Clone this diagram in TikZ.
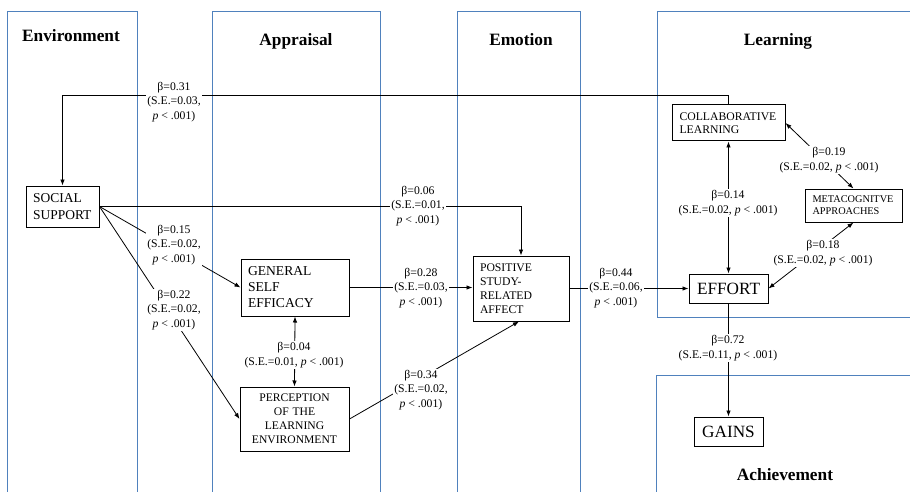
\documentclass[tikz,border=0pt]{standalone}
\usepackage{fontspec}
\setmainfont{Liberation Serif}
\usetikzlibrary{arrows.meta}
\definecolor{panelblue}{RGB}{79,129,189}
\begin{document}
\begin{tikzpicture}[x=1pt,y=-1pt,
  panel/.style={draw=panelblue, line width=1pt},
  ttl/.style={font=\fontsize{17.3}{20}\selectfont\bfseries, anchor=base, inner sep=0pt},
  box/.style={draw, line width=1pt, fill=white, inner xsep=7pt, inner ysep=0pt, align=left},
  arr/.style={line width=0.8pt, -{Latex[length=6pt,width=4.5pt]}},
  arrb/.style={line width=0.8pt, {Latex[length=6pt,width=4.5pt]}-{Latex[length=6pt,width=4.5pt]}},
  lab/.style={fill=white, inner sep=1pt, align=center, font=\fontsize{11.7}{14.5}\selectfont}]
\useasboundingbox (0,0) rectangle (910,492);
\clip (0,0) rectangle (910,492);
% panels
\draw[panel] (7,510) -- (7,12) -- (137,12) -- (137,510);
\draw[panel] (212,510) -- (212,12) -- (380,12) -- (380,510);
\draw[panel] (457,510) -- (457,12) -- (580,12) -- (580,510);
\draw[panel] (930,12) -- (657,12) -- (657,317) -- (930,317);
\draw[panel] (930,375) -- (656,375) -- (656,510);
% titles
\node[ttl] (tenv) at (71,42) {Environment};
\node[ttl] (tapp) at (296,45.5) {Appraisal};
\node[ttl] (temo) at (521,45.5) {Emotion};
\node[ttl] (tlea) at (778,45.5) {Learning};
\node[ttl] (tach) at (785,480) {Achievement};
% boxes
\node[box, text width=59pt, minimum height=41pt, font=\fontsize{13.5}{17}\selectfont] (social) at (62.5,206.5) {SOCIAL\\SUPPORT};
\node[box, text width=94pt, minimum height=57pt, font=\fontsize{13.6}{16}\selectfont] (general) at (295,287.5) {GENERAL\\SELF\\EFFICACY};
\node[box, align=center, text width=95pt, minimum height=64pt, font=\fontsize{11.6}{14}\selectfont] (percep) at (294.5,419) {PERCEPTION\\OF THE\\LEARNING\\ENVIRONMENT};
\node[box, text width=82pt, minimum height=65pt, font=\fontsize{11.7}{14}\selectfont] (positive) at (521,288.5) {POSITIVE\\STUDY-\\RELATED\\AFFECT};
\node[box, align=center, inner xsep=0pt, minimum width=79pt, minimum height=29pt, font=\fontsize{17.2}{20}\selectfont] (effort) at (728.5,288.5) {EFFORT};
\node[box, align=center, inner xsep=0pt, minimum width=69pt, minimum height=29pt, font=\fontsize{17.2}{20}\selectfont] (gains) at (728.5,431.5) {GAINS};
\node[box, inner xsep=7.5pt, text width=98pt, minimum height=36pt, font=\fontsize{11.7}{13.5}\selectfont] (collab) at (728.5,123) {COLLABORATIVE\\LEARNING};
\node[box, inner xsep=7.5pt, text width=82pt, minimum height=33pt, font=\fontsize{10.3}{12}\selectfont] (metacog) at (853.5,205.5) {METACOGNITVE\\APPROACHES};
% connectors
\draw[arr] (collab.north) -- ++(0,-9) -| (social.north);
\draw[arr] (social.east) -| (positive.north);
\draw[arr] (social.east) -- (general.west);
\draw[arr] (social.east) -- (percep.west);
\draw[arr] (general.east) -- (general.east -| positive.west);
\draw[arrb] (general.south) -- (percep.north);
\draw[arr] (percep.east) -- ([xshift=-2pt]positive.south);
\draw[arr] (positive.east) -- (positive.east -| effort.west);
\draw[arrb] (collab.south) -- (effort.north);
\draw[arrb] (collab.east) -- (metacog.north);
\draw[arrb] (metacog.south) -- (effort.east);
\draw[arr] (effort.south) -- (gains.north);
% labels
\node[lab] (l31) at (174,102) {β=0.31\\(S.E.=0.03,\\\textit{p} < .001)};
\node[lab] (l06) at (418,206) {β=0.06\\(S.E.=0.01,\\\textit{p} < .001)};
\node[lab] (l15) at (174,245) {β=0.15\\(S.E.=0.02,\\\textit{p} < .001)};
\node[lab] (l22) at (174,310) {β=0.22\\(S.E.=0.02,\\\textit{p} < .001)};
\node[lab] (l28) at (421,288) {β=0.28\\(S.E.=0.03,\\\textit{p} < .001)};
\node[lab] (l04) at (294,355) {β=0.04\\(S.E.=0.01, \textit{p} < .001)};
\node[lab] (l34) at (421,390) {β=0.34\\(S.E.=0.02,\\\textit{p} < .001)};
\node[lab] (l44) at (616,288) {β=0.44\\(S.E.=0.06,\\\textit{p} < .001)};
\node[lab] (l14) at (728,203) {β=0.14\\(S.E.=0.02, \textit{p} < .001)};
\node[lab] (l19) at (829,160) {β=0.19\\(S.E.=0.02, \textit{p} < .001)};
\node[lab] (l18) at (823,253) {β=0.18\\(S.E.=0.02, \textit{p} < .001)};
\node[lab] (l72) at (728,348) {β=0.72\\(S.E.=0.11, \textit{p} < .001)};
\end{tikzpicture}
\end{document}
